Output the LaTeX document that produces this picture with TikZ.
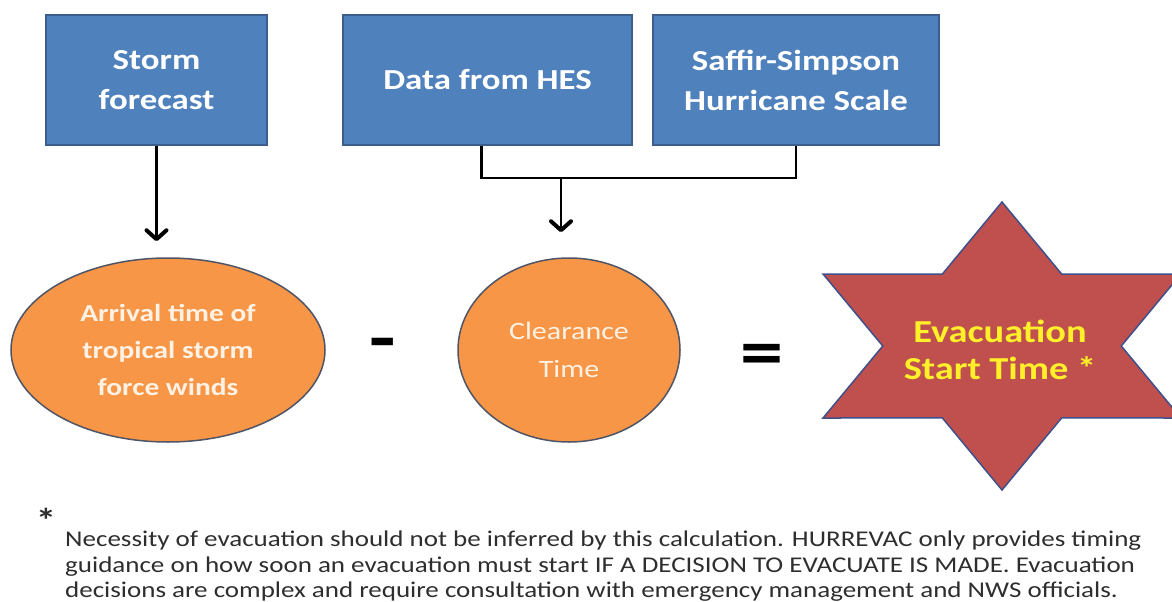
\documentclass[tikz,border=0pt]{standalone}
\usepackage{fontspec}
\setmainfont{Carlito}[FakeStretch=1.2]
\usetikzlibrary{shapes.geometric, arrows.meta}

\definecolor{boxblue}{HTML}{4F81BD}
\definecolor{boxedge}{HTML}{3B5E8C}
\definecolor{ovalfill}{HTML}{F79646}
\definecolor{ovaledge}{HTML}{4F5566}
\definecolor{starfill}{HTML}{C0504D}
\definecolor{staredge}{HTML}{3F4F8A}
\definecolor{startext}{HTML}{FFF02A}
\definecolor{notetext}{HTML}{2E2E2E}

\begin{document}
\begin{tikzpicture}[x=1pt, y=-1pt,
    inputbox/.style={rectangle, fill=boxblue, draw=boxedge, line width=1.5pt, text=white,
        font=\fontsize{29}{40}\selectfont\bfseries, align=center, minimum height=130pt, inner sep=0pt},
    oval/.style={ellipse, fill=ovalfill, draw=ovaledge, line width=1.5pt, text=white!90!orange,
        align=center, inner sep=0pt, minimum height=184pt},
    feed/.style={line width=2.6pt, black},
    feedarrow/.style={feed, -{Straight Barb[length=9pt, width=20pt, line width=4pt, round]}},
    opsign/.style={font=\fontsize{72}{72}\selectfont\bfseries, text=black},
    note/.style={font=\fontsize{22.5}{26}\selectfont, text=notetext, anchor=base west, inner sep=0pt}]

\fill[white] (0,0) rectangle (1172,602);
\useasboundingbox (0,0) rectangle (1172,602);

\node[inputbox, minimum width=221pt] (storm) at (156.5,80) {Storm\\forecast};
\node[inputbox, minimum width=289pt] (hes) at (487.5,80) {Data from HES};
\node[inputbox, minimum width=286pt] (saffir) at (796,80) {Saffir-Simpson\\Hurricane Scale};

\node[oval, minimum width=314pt, font=\fontsize{24.5}{37}\selectfont\bfseries] (arrival) at (168,350) {Arrival time of\\tropical storm\\force winds};
\node[oval, minimum width=222pt, font=\fontsize{25}{38}\selectfont] (clearance) at (569,350) {Clearance\\Time};

\node[opsign] (minus) at (383,350) {-};
\node[opsign] (equals) at (762,360) {=};

\begin{scope}[shift={(1002,346)}, xscale=1.435]
\draw[fill=starfill, draw=staredge, line width=1.5pt]
    plot[samples at={0,...,11}, variable=\k] ({\k*30+90}:{isodd(\k) ? 83.1 : 144}) -- cycle;
\end{scope}
\node[font=\fontsize{32}{37}\selectfont\bfseries, text=startext, align=center] (evac) at (1000,350) {Evacuation\\Start Time *};

\draw[feedarrow, shorten >=16pt] (storm.south) -- (storm.south |- arrival.north);
\coordinate (join) at (561,178);
\draw[feed] ([xshift=-6pt]hes.south) |- (join) -| (saffir.south);
\draw[feedarrow, shorten >=25pt] (join) -- (join |- clearance.north);

\node[font=\fontsize{34}{34}\selectfont\bfseries, text=notetext] (mark) at (46,520) {*};
\node[note] (line1) at (65,546) {Necessity of evacuation should not be inferred by this calculation. HURREVAC only provides timing};
\node[note] (line2) at (65,572) {guidance on how soon an evacuation must start IF A DECISION TO EVACUATE IS MADE. Evacuation};
\node[note] (line3) at (65,597) {decisions are complex and require consultation with emergency management and NWS officials.};

\end{tikzpicture}
\end{document}
